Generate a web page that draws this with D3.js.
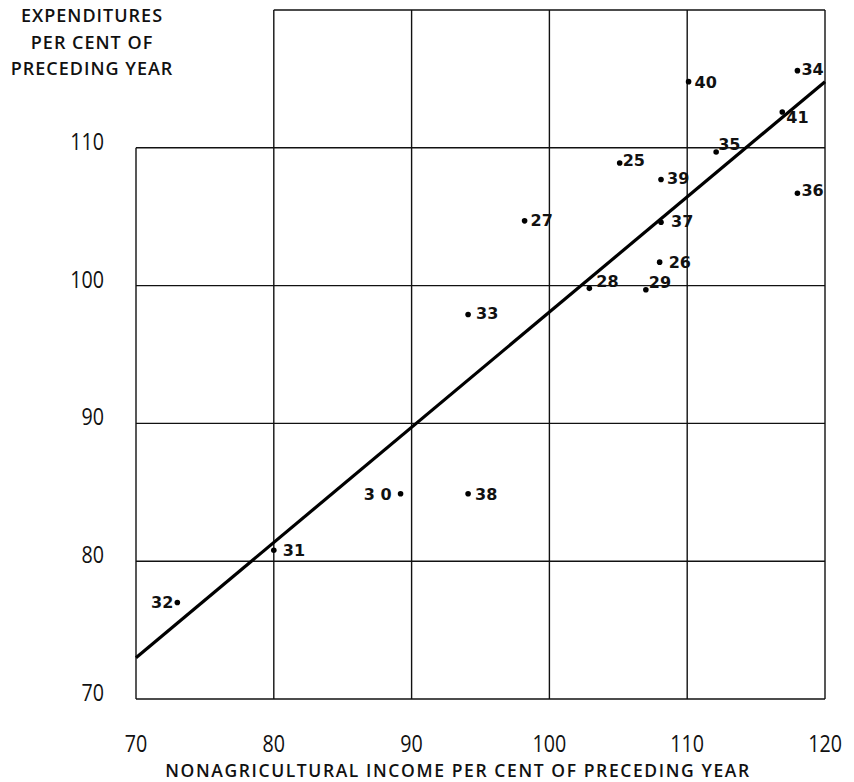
<!DOCTYPE html>
<html>
<head>
<meta charset="utf-8">
<script src="https://cdn.jsdelivr.net/npm/d3@7"></script>
<style>
  body { margin: 0; background: #fff; }
  svg { display: block; }
  .tick-label { font-family: "Open Sans", "DejaVu Sans", sans-serif; font-size: 24px; fill: #111; }
  .title { font-family: "Open Sans", "DejaVu Sans", sans-serif; fill: #111; }
  .pt-label { font-family: "DejaVu Sans", sans-serif; font-weight: bold; font-size: 16px; fill: #111; }
</style>
</head>
<body>
<svg id="chart" width="854" height="782"></svg>
<script>
// data
const years = ["25", "26", "27", "28", "29", "30", "31", "32", "33", "34", "35", "36", "37", "38", "39", "40", "41"]
const income = [105.1, 108.0, 98.2, 102.9, 107.0, 89.2, 80.0, 73.0, 94.1, 118.0, 112.1, 118.0, 108.1, 94.1, 108.1, 110.1, 116.9]
const expend = [108.9, 101.7, 104.7, 99.8, 99.7, 84.9, 80.8, 77.0, 97.9, 115.6, 109.7, 106.7, 104.6, 84.9, 107.7, 114.8, 112.6]
const fitX = [70, 120]
const fitY = [73.0, 114.8]
const xTicks = [70, 80, 90, 100, 110, 120]
const yTicks = [70, 80, 90, 100, 110]

// where each year label sits relative to its dot (dx, dy, anchor)
const place = {
  "25": [3, 3, "start"], "26": [9, 6, "start"], "27": [6, 5, "start"], "28": [7, -1, "start"],
  "29": [3, -2, "start"], "30": [-9, 6, "end"], "31": [9, 6, "start"], "32": [-4, 5, "end"],
  "33": [8, 4, "start"], "34": [4, 4, "start"], "35": [2, -2, "start"], "36": [4, 3, "start"],
  "37": [10, 5, "start"], "38": [7, 6, "start"], "39": [6, 5, "start"], "40": [6, 6, "start"],
  "41": [4, 11, "start"]
}

const svg = d3.select("#chart")
const x = d3.scaleLinear().domain([70, 120]).range([136, 825])
const y = d3.scaleLinear().domain([70, 120]).range([699, 10])

const grid = svg.append("g").attr("stroke", "#111").attr("stroke-width", 1.4).attr("fill", "none")

// vertical lines: left edge only below 110, the rest full height
xTicks.forEach(v => {
  grid.append("line")
    .attr("x1", x(v)).attr("x2", x(v))
    .attr("y1", v === 70 ? y(110) : y(120)).attr("y2", y(70))
})
// horizontal lines: top edge starts at 80
yTicks.concat([120]).forEach(v => {
  grid.append("line")
    .attr("x1", v === 120 ? x(80) : x(70)).attr("x2", x(120))
    .attr("y1", y(v)).attr("y2", y(v))
})

// tick labels, squeezed a bit to look like the narrow type of the original
svg.append("g").selectAll("g")
  .data(xTicks)
  .enter()
  .append("g")
  .attr("transform", d => `translate(${x(d)},752) scale(0.82,1)`)
  .append("text")
  .attr("class", "tick-label")
  .attr("text-anchor", "middle")
  .text(d => d)

svg.append("g").selectAll("g")
  .data(yTicks)
  .enter()
  .append("g")
  .attr("transform", d => `translate(104,${y(d) + 2}) scale(0.82,1)`)
  .append("text")
  .attr("class", "tick-label")
  .attr("text-anchor", "end")
  .text(d => d)

// fitted line
svg.append("line")
  .attr("x1", x(fitX[0])).attr("y1", y(fitY[0]))
  .attr("x2", x(fitX[1])).attr("y2", y(fitY[1]))
  .attr("stroke", "#000")
  .attr("stroke-width", 3.2)

// points and year labels
const pts = svg.append("g").selectAll("g")
  .data(years.map((yr, i) => ({ yr, inc: income[i], exp: expend[i] })))
  .enter()
  .append("g")

pts.append("circle")
  .attr("cx", d => x(d.inc))
  .attr("cy", d => y(d.exp))
  .attr("r", 2.8)
  .attr("fill", "#000")

pts.append("text")
  .attr("class", "pt-label")
  .attr("x", d => x(d.inc) + place[d.yr][0])
  .attr("y", d => y(d.exp) + place[d.yr][1])
  .attr("text-anchor", d => place[d.yr][2])
  .text(d => d.yr === "30" ? "3 0" : d.yr)

// axis titles
const yTitle = ["EXPENDITURES", "PER CENT OF", "PRECEDING YEAR"]
svg.append("g").selectAll("text")
  .data(yTitle)
  .enter()
  .append("text")
  .attr("class", "title")
  .attr("x", 92)
  .attr("y", (d, i) => 22 + i * 26.5)
  .attr("text-anchor", "middle")
  .attr("font-size", 18)
  .attr("font-weight", 600)
  .attr("letter-spacing", 1)
  .text(d => d)

svg.append("text")
  .attr("class", "title")
  .attr("x", 458)
  .attr("y", 777)
  .attr("text-anchor", "middle")
  .attr("font-size", 17.5)
  .attr("font-weight", 600)
  .attr("letter-spacing", 1.6)
  .text("NONAGRICULTURAL INCOME PER CENT OF PRECEDING YEAR")
</script>
</body>
</html>
